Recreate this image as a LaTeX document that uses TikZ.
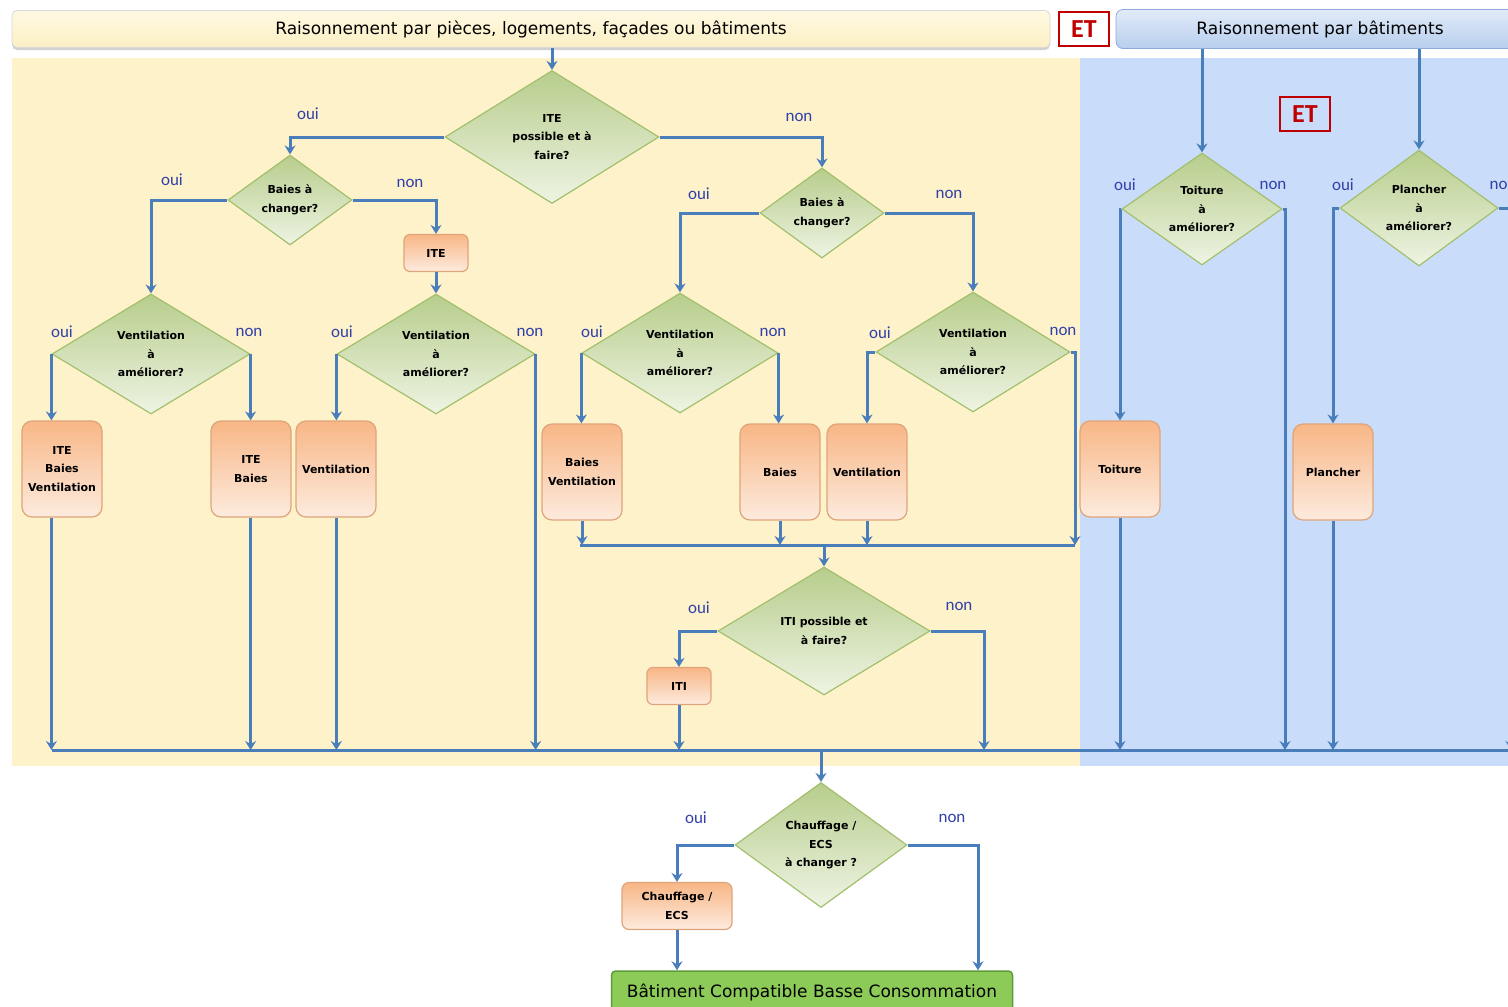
\documentclass[tikz,border=0pt]{standalone}
\usepackage{fontspec}
\setmainfont{DejaVu Sans}
\newfontfamily\labfont{Carlito}
\usetikzlibrary{shapes.geometric,arrows.meta,shadows}
\definecolor{bgyellow}{HTML}{FEF2CB}
\definecolor{bgblue}{HTML}{C9DDFA}
\definecolor{lineblue}{HTML}{4A7EBB}
\definecolor{labblue}{HTML}{3040A8}
\definecolor{diatop}{HTML}{B7CD8C}
\definecolor{diabot}{HTML}{EEF4E3}
\definecolor{diaborder}{HTML}{A3BF6C}
\definecolor{ortop}{HTML}{F8B686}
\definecolor{orbot}{HTML}{FDEBDE}
\definecolor{orborder}{HTML}{DFA57A}
\definecolor{etred}{HTML}{C00000}
\definecolor{finalgreen}{HTML}{8CCB58}
\definecolor{finalborder}{HTML}{5E9C3A}
\definecolor{hdrytop}{HTML}{FFF9E2}
\definecolor{hdrybot}{HTML}{FBEFC4}
\definecolor{hdrbtop}{HTML}{E2EBF8}
\definecolor{hdrbbot}{HTML}{B7CEEE}
\definecolor{hdrbborder}{HTML}{8EAADB}
\begin{document}
\begin{tikzpicture}[x=1pt,y=-1pt,
  nodefont/.style={font=\fontsize{11}{18.5}\selectfont\bfseries},
  dia/.style={diamond, draw=diaborder, line width=1.2pt, top color=diatop, bottom color=diabot,
    inner sep=0pt, align=center, nodefont},
  obox/.style={rectangle, rounded corners=10pt, draw=orborder, line width=1.2pt,
    top color=ortop, bottom color=orbot, inner sep=0pt, align=center, nodefont,
    minimum width=80pt, minimum height=96pt},
  sbox/.style={obox, rounded corners=6pt, minimum width=64pt, minimum height=37pt},
  lbl/.style={font=\labfont\fontsize{17}{17}\selectfont, text=labblue, inner sep=0pt},
  etbox/.style={draw=etred, line width=2.6pt, text=etred, font=\labfont\bfseries\fontsize{26}{26}\selectfont,
    minimum width=50pt, minimum height=34pt, inner sep=0pt},
  line/.style={draw=lineblue, line width=3pt},
  arr/.style={line, -{Stealth[length=9pt,width=11pt,inset=3pt]}},
  hdrfont/.style={font=\fontsize{17}{19}\selectfont}
]
\useasboundingbox (0,0) rectangle (1508,1007);
\clip (0,0) rectangle (1508,1007);
\fill[white] (0,0) rectangle (1508,1007);
\fill[bgyellow] (12,58) rectangle (1080,766);
\fill[bgblue] (1080,58) rectangle (1508,766);

% headers
\node[rectangle, rounded corners=5pt, draw=black!15, line width=0.8pt, top color=hdrytop, bottom color=hdrybot,
  drop shadow={shadow xshift=0pt, shadow yshift=-2.5pt, opacity=0.35},
  minimum width=1038pt, minimum height=37pt, inner sep=0pt, hdrfont] (h1) at (531,29)
  {Raisonnement par pièces, logements, façades ou bâtiments};
\node[etbox] (et1) at (1084,29) {ET};
\node[rectangle, rounded corners=7pt, draw=hdrbborder, line width=0.8pt, top color=hdrbtop, bottom color=hdrbbot,
  minimum width=408pt, minimum height=39pt, inner sep=0pt, hdrfont] (h2) at (1320,29)
  {Raisonnement par bâtiments};
\node[etbox] (et2) at (1305,114) {ET};

% diamonds
\node[dia, minimum width=214pt, minimum height=133pt] (d1) at (552,137) {ITE\\possible et à\\faire?};
\node[dia, minimum width=124pt, minimum height=90pt] (d2) at (290,200) {Baies à\\changer?};
\node[dia, minimum width=124pt, minimum height=90pt] (d3) at (822,213) {Baies à\\changer?};
\node[dia, minimum width=198pt, minimum height=120pt] (v1) at (151,354) {Ventilation\\à\\améliorer?};
\node[dia, minimum width=198pt, minimum height=120pt] (v2) at (436,354) {Ventilation\\à\\améliorer?};
\node[dia, minimum width=196pt, minimum height=120pt] (v3) at (680,353) {Ventilation\\à\\améliorer?};
\node[dia, minimum width=194pt, minimum height=120pt] (v4) at (973,352) {Ventilation\\à\\améliorer?};
\node[dia, minimum width=212pt, minimum height=128pt] (iti) at (824,631) {ITI possible et\\à faire?};
\node[dia, minimum width=172pt, minimum height=125pt] (ch) at (821,845) {Chauffage /\\ECS\\à changer ?};
\node[dia, minimum width=160pt, minimum height=112pt] (t) at (1202,209) {Toiture\\à\\améliorer?};
\node[dia, minimum width=158pt, minimum height=116pt] (p) at (1419,208) {Plancher\\à\\améliorer?};

% boxes
\node[sbox] (ite) at (436,253) {ITE};
\node[obox] (r1) at (62,469) {ITE\\Baies\\Ventilation};
\node[obox] (r2) at (251,469) {ITE\\Baies};
\node[obox] (r3) at (336,469) {Ventilation};
\node[obox] (r4) at (582,472) {Baies\\Ventilation};
\node[obox] (r5) at (780,472) {Baies};
\node[obox] (r6) at (867,472) {Ventilation};
\node[obox] (r7) at (1120,469) {Toiture};
\node[obox] (r8) at (1333,472) {Plancher};
\node[sbox] (itibox) at (679,686) {ITI};
\node[sbox, minimum width=110pt, minimum height=47pt, rounded corners=7pt] (chbox) at (677,906) {Chauffage /\\ECS};
\node[rectangle, rounded corners=4pt, draw=finalborder, line width=1.5pt, fill=finalgreen,
  minimum width=401pt, minimum height=42pt, inner sep=0pt, hdrfont] (final) at (812,992)
  {Bâtiment Compatible Basse Consommation};

% bus coordinates
\coordinate (busL) at (52,750);
\coordinate (busR) at (1520,750);
\coordinate (mbL) at (580,545);
\coordinate (mbR) at (1075,545);
\coordinate (itiR) at (984,750);
\coordinate (tR) at (1285,750);
\coordinate (pR) at (1511,750);
\coordinate (fR) at (978,0);

% connectors, left part
\draw[arr] (h1.south -| d1.north) -- (d1.north);
\draw[arr] (d1.west) -| (d2.north);
\draw[arr] (d1.east) -| (d3.north);
\draw[arr] (d2.west) -| (v1.north);
\draw[arr] (d2.east) -| (ite.north);
\draw[arr] (ite.south) -- (v2.north);
\draw[arr] (d3.west) -| (v3.north);
\draw[arr] (d3.east) -| (v4.north);
\draw[arr] (v1.west) -- (v1.west |- r1.north);
\draw[arr] (v1.east) -- (v1.east |- r2.north);
\draw[arr] (v2.west) -- (v2.west |- r3.north);
\draw[arr] (v2.east) -- (v2.east |- busL);
\draw[arr] (v3.west) -- (v3.west |- r4.north);
\draw[arr] (v3.east) -- (v3.east |- r5.north);
\draw[arr] (v4.west) -| (r6.north);
\draw[arr] (v4.east) -| (mbR);
\draw[line] (mbL) -- (mbR);
\draw[arr] (r4.south) -- (r4.south |- mbL);
\draw[arr] (r5.south) -- (r5.south |- mbL);
\draw[arr] (r6.south) -- (r6.south |- mbL);
\draw[arr] (iti.north |- mbL) -- (iti.north);
\draw[arr] (iti.west) -| (itibox.north);
\draw[arr] (iti.east) -| (itiR);
\draw[arr] (itibox.south) -- (itibox.south |- busL);
\draw[line] (busL) -- (busR);
\draw[arr] (v1.west |- r1.south) -- (v1.west |- busL);
\draw[arr] (v1.east |- r2.south) -- (v1.east |- busL);
\draw[arr] (v2.west |- r3.south) -- (v2.west |- busL);

% right part
\draw[arr] (h2.south -| t.north) -- (t.north);
\draw[arr] (h2.south -| p.north) -- (p.north);
\draw[arr] (t.west) -| (r7.north);
\draw[arr] (r7.south) -- (r7.south |- busL);
\draw[arr] (t.east) -| (tR);
\draw[arr] (p.west) -| (r8.north);
\draw[arr] (r8.south) -- (r8.south |- busL);
\draw[arr] (p.east) -| (pR);

% bottom
\draw[arr] (busL -| ch.north) -- (ch.north);
\draw[arr] (ch.west) -| (chbox.north);
\draw[arr] (ch.east) -| (fR |- final.north);
\draw[arr] (chbox.south) -- (chbox.south |- final.north);

% labels
\node[lbl] at (308,114) {oui};
\node[lbl] at (799,117) {non};
\node[lbl] at (172,180) {oui};
\node[lbl] at (410,183) {non};
\node[lbl] at (699,194) {oui};
\node[lbl] at (949,194) {non};
\node[lbl] at (62,332) {oui};
\node[lbl] at (249,332) {non};
\node[lbl] at (342,332) {oui};
\node[lbl] at (530,332) {non};
\node[lbl] at (592,332) {oui};
\node[lbl] at (773,332) {non};
\node[lbl] at (880,333) {oui};
\node[lbl] at (1063,331) {non};
\node[lbl] at (699,608) {oui};
\node[lbl] at (959,606) {non};
\node[lbl] at (696,818) {oui};
\node[lbl] at (952,818) {non};
\node[lbl] at (1125,185) {oui};
\node[lbl] at (1273,185) {non};
\node[lbl] at (1343,185) {oui};
\node[lbl] at (1503,185) {non};
\end{tikzpicture}
\end{document}
